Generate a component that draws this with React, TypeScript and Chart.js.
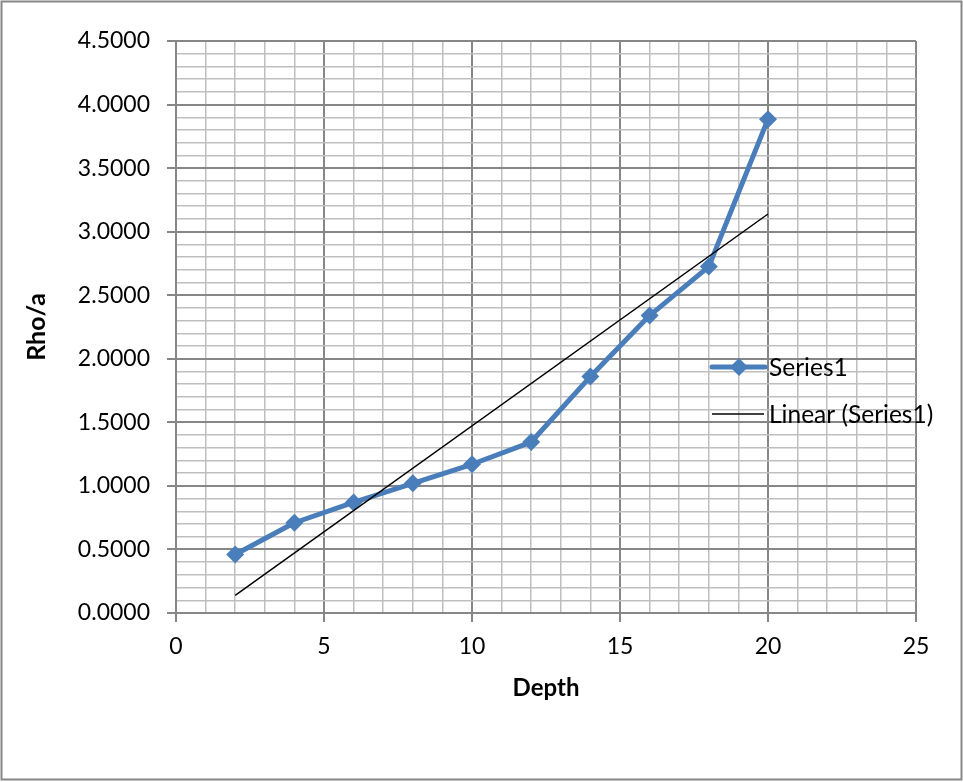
import React, { useEffect, useRef } from "react";
import { Chart, registerables } from "chart.js";

Chart.register(...registerables);

const depths = [2, 4, 6, 8, 10, 12, 14, 16, 18, 20];
const rhoA = [0.46, 0.71, 0.87, 1.02, 1.17, 1.345, 1.86, 2.34, 2.725, 3.885];
const trendDepths = [2, 20];
const trendValues = [0.139, 3.139];
const seriesName = "Series1";
const trendName = "Linear (Series1)";
const xTitle = "Depth";
const yTitle = "Rho/a";

const FONT = "Lato, 'Open Sans', sans-serif";
const BLUE = "#4A7EBB";
const MAJOR = "#878787";
const MINOR = "#bfbfbf";

const isMajorX = (v: number) => Math.round(v) % 5 === 0;
const isMajorY = (v: number) => Math.round(v * 10) % 5 === 0;

const decorPlugin = {
  id: "decor",
  afterDatasetsDraw(chart: any) {
    const ctx = chart.ctx as CanvasRenderingContext2D;
    ctx.save();
    ctx.lineCap = "round";
    ctx.strokeStyle = BLUE;
    ctx.lineWidth = 5;
    ctx.beginPath();
    ctx.moveTo(712, 367);
    ctx.lineTo(765, 367);
    ctx.stroke();
    ctx.fillStyle = BLUE;
    ctx.beginPath();
    ctx.moveTo(739, 358);
    ctx.lineTo(748, 367);
    ctx.lineTo(739, 376);
    ctx.lineTo(730, 367);
    ctx.closePath();
    ctx.fill();
    ctx.lineCap = "butt";
    ctx.strokeStyle = "#000";
    ctx.lineWidth = 1.5;
    ctx.beginPath();
    ctx.moveTo(712, 414);
    ctx.lineTo(764, 414);
    ctx.stroke();
    ctx.fillStyle = "#000";
    ctx.font = `24.5px ${FONT}`;
    ctx.textBaseline = "middle";
    ctx.textAlign = "left";
    ctx.fillText(seriesName, 769, 368);
    ctx.fillText(trendName, 769, 415);
    ctx.restore();
  },
  afterDraw(chart: any) {
    const ctx = chart.ctx as CanvasRenderingContext2D;
    ctx.save();
    ctx.strokeStyle = "#878787";
    ctx.lineWidth = 2;
    ctx.strokeRect(1.5, 1.5, 960, 778);
    ctx.restore();
  },
};

export default function App() {
  const ref = useRef<HTMLCanvasElement>(null);
  useEffect(() => {
    if (!ref.current) return;
    const chart = new Chart(ref.current, {
      type: "line",
      data: {
        datasets: [
          {
            label: trendName,
            data: trendDepths.map((x, i) => ({ x, y: trendValues[i] })),
            borderColor: "#000",
            borderWidth: 1.5,
            pointRadius: 0,
            order: 0,
          },
          {
            label: seriesName,
            data: depths.map((x, i) => ({ x, y: rhoA[i] })),
            borderColor: BLUE,
            backgroundColor: BLUE,
            borderWidth: 5,
            pointStyle: "rectRot",
            pointRadius: 9,
            pointBorderWidth: 0,
            pointBackgroundColor: BLUE,
            borderJoinStyle: "round",
            order: 1,
          },
        ],
      },
      options: {
        responsive: false,
        animation: false,
        layout: { padding: { left: 18, top: 41, right: 47, bottom: 75 } },
        plugins: { legend: { display: false }, tooltip: { enabled: false } },
        scales: {
          x: {
            type: "linear",
            min: 0,
            max: 25,
            afterFit: (s: any) => {
              s.height = 94;
            },
            ticks: {
              stepSize: 1,
              autoSkip: false,
              maxRotation: 0,
              padding: 11,
              color: "#000",
              font: { family: FONT, size: 23 },
              callback: (v: any) => (isMajorX(Number(v)) ? String(Math.round(Number(v))) : ""),
            },
            grid: {
              tickLength: 9,
              color: (c: any) => (isMajorX(c.tick.value) ? MAJOR : MINOR),
              lineWidth: (c: any) => (isMajorX(c.tick.value) ? 2 : 1.5),
              tickColor: (c: any) => (isMajorX(c.tick.value) ? MAJOR : "rgba(0,0,0,0)"),
            },
            border: { color: MAJOR, width: 2 },
            title: {
              display: true,
              text: xTitle,
              color: "#000",
              font: { family: FONT, size: 24, weight: "bold" },
              padding: 4,
            },
          },
          y: {
            type: "linear",
            min: 0,
            max: 4.5,
            afterFit: (s: any) => {
              s.width = 158;
            },
            ticks: {
              stepSize: 0.1,
              autoSkip: false,
              padding: 17,
              color: "#000",
              font: { family: FONT, size: 23 },
              callback: (v: any) => (isMajorY(Number(v)) ? Number(v).toFixed(4) : ""),
            },
            grid: {
              tickLength: 9,
              color: (c: any) => (isMajorY(c.tick.value) ? MAJOR : MINOR),
              lineWidth: (c: any) => (isMajorY(c.tick.value) ? 2 : 1.5),
              tickColor: (c: any) => (isMajorY(c.tick.value) ? MAJOR : "rgba(0,0,0,0)"),
            },
            border: { color: MAJOR, width: 2 },
            title: {
              display: true,
              text: yTitle,
              color: "#000",
              font: { family: FONT, size: 25, weight: "bold" },
              padding: 4,
            },
          },
        },
      },
      plugins: [decorPlugin],
    } as any);
    return () => chart.destroy();
  }, []);
  return (
    <div style={{ position: "absolute", left: 0, top: 0, width: 963, height: 782, background: "#fff" }}>
      <canvas ref={ref} width={963} height={782} style={{ width: 963, height: 782, display: "block" }} />
    </div>
  );
}
